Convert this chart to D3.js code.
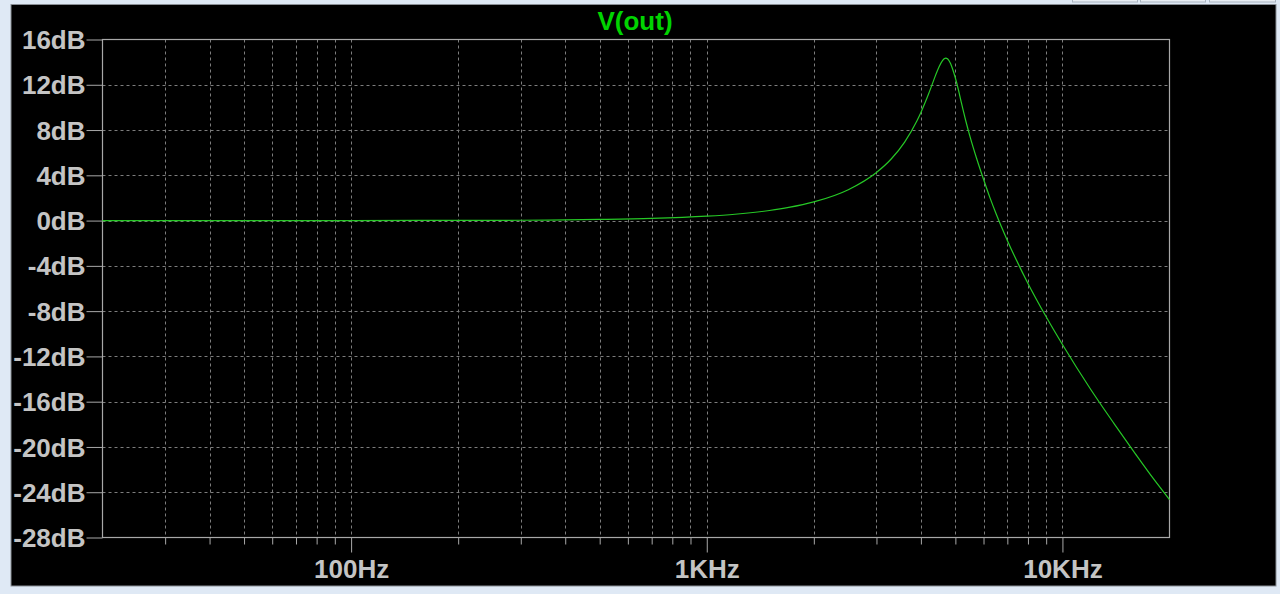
<!DOCTYPE html>
<html>
<head>
<meta charset="utf-8">
<script src="https://cdn.jsdelivr.net/npm/d3@7"></script>
<style>
  html, body { margin: 0; padding: 0; background: #dfe9f5; overflow: hidden; }
  svg { display: block; }
  text { font-family: "Liberation Sans", Arial, sans-serif; font-weight: bold; }
</style>
</head>
<body>
<svg id="chart" width="1280" height="594"></svg>
<script>
// ---- data ----
const title = "V(out)";
const freqDomain = [20, 20000];
const dbDomain = [-28, 16];
const yTicks = [16, 12, 8, 4, 0, -4, -8, -12, -16, -20, -24, -28];
const xMajorTicks = [100, 1000, 10000];
const xMajorLabels = ["100Hz", "1KHz", "10KHz"];

const freqs = [20, 50, 100, 200, 300, 400, 500, 700, 1000, 1200, 1500, 1700, 2000, 2500, 3000, 3300, 3600, 3900, 4000, 4100, 4200, 4300, 4400, 4500, 4600, 4650, 4700, 4750, 4800, 4850, 4900, 5000, 5100, 5200, 5350, 5500, 5750, 6000, 6250, 6500, 7000, 8000, 9000, 10000, 12000, 14000, 16000, 18000, 20000];
const gainDb = [0.00, 0.00, 0.00, 0.02, 0.03, 0.06, 0.10, 0.19, 0.39, 0.56, 0.89, 1.16, 1.65, 2.73, 4.25, 5.44, 6.94, 8.82, 9.55, 10.34, 11.16, 12.01, 12.85, 13.60, 14.14, 14.30, 14.36, 14.30, 14.12, 13.85, 13.48, 12.60, 11.55, 10.40, 8.80, 7.40, 5.40, 3.65, 2.05, 0.65, -1.75, -5.55, -8.50, -10.95, -14.90, -17.98, -20.56, -22.78, -24.65];

// ---- layout ----
const svg = d3.select("#chart");
const plot = { left: 102.5, right: 1169.5, top: 39.5, bottom: 537.5 };

const x = d3.scaleLog().domain(freqDomain).range([plot.left, plot.right]);
const y = d3.scaleLinear().domain(dbDomain).range([plot.bottom, plot.top]);

// background panel
svg.append("rect").attr("x", 0).attr("y", 0).attr("width", 1280).attr("height", 594).attr("fill", "#dfe9f5");
// top-right toolbar stubs
[[1072, 65], [1140, 65], [1209, 66]].forEach(([bx, bw]) => {
  svg.append("rect").attr("x", bx + 0.5).attr("y", -10).attr("width", bw).attr("height", 12)
    .attr("fill", "#e9eef4").attr("stroke", "#a9b4c0");
});
svg.append("rect").attr("x", 11).attr("y", 4.5).attr("width", 1265).attr("height", 581.5)
  .attr("fill", "#000000").attr("stroke", "#8a8f96").attr("stroke-width", 1);

const gridColor = "#7d7d7d";
const frameColor = "#a8a8a8";
const labelColor = "#c4c4c4";

// vertical grid (all log ticks except frame edges)
const allXTicks = x.ticks().filter(v => v > freqDomain[0] + 1e-9 && v < freqDomain[1] - 1e-9);
svg.append("g").selectAll("line").data(allXTicks).join("line")
  .attr("x1", d => Math.round(x(d)) + 0.5).attr("x2", d => Math.round(x(d)) + 0.5)
  .attr("y1", plot.top).attr("y2", plot.bottom)
  .attr("stroke", gridColor).attr("stroke-width", 1).attr("stroke-dasharray", "3,3");

// horizontal grid
const innerY = yTicks.filter(v => v > dbDomain[0] && v < dbDomain[1]);
svg.append("g").selectAll("line").data(innerY).join("line")
  .attr("x1", plot.left).attr("x2", plot.right)
  .attr("y1", d => Math.round(y(d)) + 0.5).attr("y2", d => Math.round(y(d)) + 0.5)
  .attr("stroke", gridColor).attr("stroke-width", 1).attr("stroke-dasharray", "3,3");

// y axis
const yAxis = svg.append("g").attr("transform", `translate(${plot.left},0)`)
  .call(d3.axisLeft(y).tickValues(yTicks).tickSize(16).tickPadding(1).tickFormat(d => d + "dB"));
yAxis.select(".domain").remove();
yAxis.selectAll("line").attr("stroke", frameColor);
yAxis.selectAll("text").attr("fill", labelColor).attr("font-size", 26)
  .attr("font-family", "Liberation Sans, Arial, sans-serif").attr("font-weight", "bold")
  .attr("dy", "0.35em");

// x axis minor ticks
const xMinor = svg.append("g").attr("transform", `translate(0,${plot.bottom})`)
  .call(d3.axisBottom(x).tickValues(allXTicks.filter(v => !xMajorTicks.includes(v))).tickSize(7).tickFormat(""));
xMinor.select(".domain").remove();
xMinor.selectAll("line").attr("stroke", frameColor);

// x axis major ticks
const xMajor = svg.append("g").attr("transform", `translate(0,${plot.bottom})`)
  .call(d3.axisBottom(x).tickValues(xMajorTicks).tickSize(15)
    .tickFormat((d, i) => xMajorLabels[i]));
xMajor.select(".domain").remove();
xMajor.selectAll("line").attr("stroke", frameColor);
xMajor.selectAll("text").attr("fill", labelColor).attr("font-size", 26)
  .attr("font-family", "Liberation Sans, Arial, sans-serif").attr("font-weight", "bold")
  .attr("y", 40).attr("dy", null);

// frame
svg.append("rect").attr("x", plot.left).attr("y", plot.top)
  .attr("width", plot.right - plot.left).attr("height", plot.bottom - plot.top)
  .attr("fill", "none").attr("stroke", frameColor).attr("stroke-width", 1.2);

// curve
const pts = freqs.map((f, i) => [f, gainDb[i]]);
const line = d3.line().x(d => x(d[0])).y(d => y(d[1])).curve(d3.curveMonotoneX);
svg.append("path").datum(pts).attr("d", line)
  .attr("fill", "none").attr("stroke", "#26c826").attr("stroke-width", 1.2);

// title
svg.append("text").attr("x", 635).attr("y", 30).attr("text-anchor", "middle")
  .attr("fill", "#00d400").attr("font-size", 26).text(title);
</script>
</body>
</html>
